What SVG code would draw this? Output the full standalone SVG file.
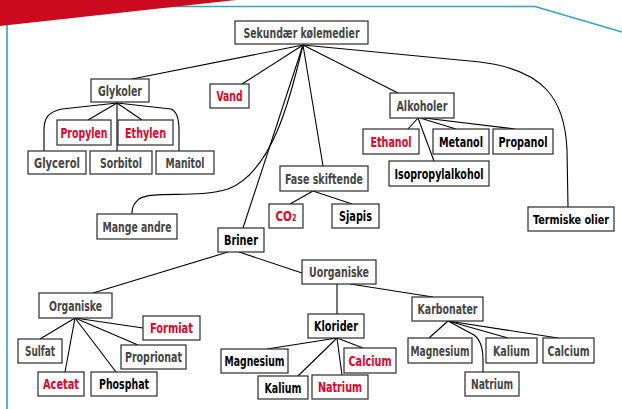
<svg xmlns="http://www.w3.org/2000/svg" width="622" height="409" viewBox="0 0 622 409">
<style>
.bx{fill:#fff;stroke:#2a2a2a;stroke-width:1.2}
.t{font-family:"DejaVu Sans Condensed","DejaVu Sans",sans-serif;font-weight:bold;font-size:14px;text-anchor:middle}
.g{fill:#444}
.k{fill:#000}
.r{fill:#e4002b}
#connectors path,#connectors line{stroke:#000;stroke-width:1.1;fill:none}
.deco{stroke:#2fa4c4;stroke-width:1.6;fill:none}
</style>
<rect width="622" height="409" fill="#fff"/>
<g id="decoration">
<path class="deco" d="M150,6.5 L535,6.5 L622,32"/>
<path class="deco" d="M7,18 L7,409"/>
<polygon points="0,0 236,0 0,26" fill="#cc0a1f"/>
</g>
<g id="connectors">
<line x1="303" y1="45" x2="132" y2="79"/>
<line x1="303" y1="45" x2="242" y2="84"/>
<path d="M303,45 C290,100 272,172 228,189 C198,199 152,190 139,199 C133,204 132,208 132,214"/>
<line x1="303" y1="45" x2="243" y2="228"/>
<line x1="303" y1="45" x2="323" y2="166"/>
<line x1="303" y1="45" x2="398" y2="93"/>
<path d="M303,45 L480,62 C545,70 565,100 567,150 L568,207"/>
<path d="M117,103 L62,109 C48,112 44,118 44,130 L44,151"/>
<line x1="117" y1="103" x2="88" y2="120"/>
<line x1="117" y1="103" x2="117" y2="151"/>
<line x1="117" y1="103" x2="142" y2="120"/>
<path d="M117,103 L171,109 C176,111 179,118 179,130 L179,151"/>
<line x1="418" y1="118" x2="408" y2="129"/>
<line x1="418" y1="118" x2="434" y2="161"/>
<line x1="420" y1="118" x2="456" y2="129"/>
<line x1="424" y1="118" x2="515" y2="129"/>
<line x1="313" y1="191" x2="290" y2="204"/>
<line x1="313" y1="191" x2="352" y2="204"/>
<line x1="228" y1="252" x2="93" y2="293"/>
<line x1="239" y1="252" x2="302" y2="273"/>
<line x1="75" y1="318" x2="40" y2="339"/>
<line x1="75" y1="318" x2="65" y2="372"/>
<line x1="75" y1="318" x2="116" y2="372"/>
<line x1="75" y1="318" x2="138" y2="345"/>
<line x1="75" y1="318" x2="143" y2="328"/>
<line x1="337" y1="284" x2="337" y2="314"/>
<line x1="350" y1="284" x2="433" y2="297"/>
<line x1="337" y1="338" x2="267" y2="349"/>
<line x1="337" y1="338" x2="298" y2="376"/>
<line x1="337" y1="338" x2="342" y2="375"/>
<line x1="337" y1="338" x2="363" y2="348"/>
<line x1="448" y1="321" x2="429" y2="338"/>
<path d="M448,321 L474,335 C481,340 483,348 483,360 L483,372"/>
<line x1="448" y1="321" x2="508" y2="338"/>
<line x1="448" y1="321" x2="558" y2="338"/>
</g>
<g id="root"><rect class="bx" x="235" y="21" width="133" height="23"/><text class="t g" x="301.5" y="37.5" textLength="116" lengthAdjust="spacingAndGlyphs">Sekundær kølemedier</text></g>
<g id="glykoler"><rect class="bx" x="91" y="79" width="58" height="23"/><text class="t g" x="120" y="95.5" textLength="44" lengthAdjust="spacingAndGlyphs">Glykoler</text></g>
<g id="vand"><rect class="bx" x="210" y="84" width="39" height="24"/><text class="t r" x="229.5" y="101" textLength="26" lengthAdjust="spacingAndGlyphs">Vand</text></g>
<g id="propylen"><rect class="bx" x="57" y="120" width="54" height="25"/><text class="t r" x="84" y="137.5" textLength="47" lengthAdjust="spacingAndGlyphs">Propylen</text></g>
<g id="ethylen"><rect class="bx" x="118" y="120" width="55" height="25"/><text class="t r" x="145.5" y="137.5" textLength="41" lengthAdjust="spacingAndGlyphs">Ethylen</text></g>
<g id="glycerol"><rect class="bx" x="28" y="151" width="58" height="23"/><text class="t g" x="57" y="167.5" textLength="46" lengthAdjust="spacingAndGlyphs">Glycerol</text></g>
<g id="sorbitol"><rect class="bx" x="90" y="151" width="62" height="23"/><text class="t g" x="121" y="167.5" textLength="42" lengthAdjust="spacingAndGlyphs">Sorbitol</text></g>
<g id="manitol"><rect class="bx" x="156" y="151" width="58" height="23"/><text class="t g" x="185" y="167.5" textLength="39" lengthAdjust="spacingAndGlyphs">Manitol</text></g>
<g id="alkoholer"><rect class="bx" x="390" y="93" width="64" height="25"/><text class="t g" x="422" y="110.5" textLength="51" lengthAdjust="spacingAndGlyphs">Alkoholer</text></g>
<g id="ethanol"><rect class="bx" x="363" y="129" width="56" height="25"/><text class="t r" x="391" y="146.5" textLength="41" lengthAdjust="spacingAndGlyphs">Ethanol</text></g>
<g id="metanol"><rect class="bx" x="433" y="129" width="56" height="25"/><text class="t k" x="461" y="146.5" textLength="44" lengthAdjust="spacingAndGlyphs">Metanol</text></g>
<g id="propanol"><rect class="bx" x="493" y="129" width="60" height="25"/><text class="t k" x="523" y="146.5" textLength="49" lengthAdjust="spacingAndGlyphs">Propanol</text></g>
<g id="isopropylalkohol"><rect class="bx" x="389" y="161" width="100" height="25"/><text class="t k" x="439" y="178.5" textLength="89" lengthAdjust="spacingAndGlyphs">Isopropylalkohol</text></g>
<g id="fase"><rect class="bx" x="280" y="166" width="88" height="25"/><text class="t g" x="324" y="183.5" textLength="78" lengthAdjust="spacingAndGlyphs">Fase skiftende</text></g>
<g id="co2"><rect class="bx" x="269" y="204" width="34" height="24"/><text class="t r" x="286" y="221" textLength="21" lengthAdjust="spacingAndGlyphs">CO₂</text></g>
<g id="sjapis"><rect class="bx" x="332" y="204" width="47" height="24"/><text class="t k" x="355.5" y="221" textLength="33" lengthAdjust="spacingAndGlyphs">Sjapis</text></g>
<g id="mange"><rect class="bx" x="97" y="214" width="80" height="25"/><text class="t g" x="137" y="231.5" textLength="69" lengthAdjust="spacingAndGlyphs">Mange andre</text></g>
<g id="briner"><rect class="bx" x="218" y="228" width="46" height="24"/><text class="t k" x="241" y="245" textLength="34" lengthAdjust="spacingAndGlyphs">Briner</text></g>
<g id="termiske"><rect class="bx" x="528" y="207" width="86" height="24"/><text class="t k" x="571" y="223.5" font-size="13" style="font-size:13px" textLength="76" lengthAdjust="spacingAndGlyphs">Termiske olier</text></g>
<g id="uorganiske"><rect class="bx" x="302" y="260" width="74" height="24"/><text class="t g" x="339" y="277" textLength="60" lengthAdjust="spacingAndGlyphs">Uorganiske</text></g>
<g id="organiske"><rect class="bx" x="39" y="293" width="73" height="25"/><text class="t g" x="75.5" y="310.5" textLength="53" lengthAdjust="spacingAndGlyphs">Organiske</text></g>
<g id="formiat"><rect class="bx" x="143" y="316" width="57" height="24"/><text class="t r" x="171.5" y="333" textLength="43" lengthAdjust="spacingAndGlyphs">Formiat</text></g>
<g id="sulfat"><rect class="bx" x="18" y="339" width="44" height="24"/><text class="t g" x="40" y="356" textLength="30" lengthAdjust="spacingAndGlyphs">Sulfat</text></g>
<g id="proprionat"><rect class="bx" x="121" y="345" width="65" height="24"/><text class="t g" x="153.5" y="362" textLength="57" lengthAdjust="spacingAndGlyphs">Proprionat</text></g>
<g id="acetat"><rect class="bx" x="38" y="372" width="46" height="24"/><text class="t r" x="61" y="389" textLength="36" lengthAdjust="spacingAndGlyphs">Acetat</text></g>
<g id="phosphat"><rect class="bx" x="91" y="372" width="66" height="24"/><text class="t k" x="124" y="389" textLength="50" lengthAdjust="spacingAndGlyphs">Phosphat</text></g>
<g id="klorider"><rect class="bx" x="308" y="314" width="56" height="24"/><text class="t k" x="336" y="331" textLength="44" lengthAdjust="spacingAndGlyphs">Klorider</text></g>
<g id="magnesium1"><rect class="bx" x="221" y="349" width="67" height="24"/><text class="t k" x="254.5" y="366" textLength="60" lengthAdjust="spacingAndGlyphs">Magnesium</text></g>
<g id="kalium1"><rect class="bx" x="258" y="376" width="50" height="23"/><text class="t k" x="283" y="392.5" textLength="37" lengthAdjust="spacingAndGlyphs">Kalium</text></g>
<g id="calcium1"><rect class="bx" x="344" y="348" width="52" height="25"/><text class="t r" x="370" y="365.5" textLength="43" lengthAdjust="spacingAndGlyphs">Calcium</text></g>
<g id="natrium1"><rect class="bx" x="312" y="375" width="56" height="24"/><text class="t r" x="340" y="392" textLength="44" lengthAdjust="spacingAndGlyphs">Natrium</text></g>
<g id="karbonater"><rect class="bx" x="412" y="297" width="71" height="24"/><text class="t g" x="447.5" y="314" textLength="60" lengthAdjust="spacingAndGlyphs">Karbonater</text></g>
<g id="magnesium2"><rect class="bx" x="408" y="338" width="64" height="25"/><text class="t g" x="440" y="355.5" textLength="59" lengthAdjust="spacingAndGlyphs">Magnesium</text></g>
<g id="kalium2"><rect class="bx" x="486" y="338" width="51" height="25"/><text class="t g" x="511.5" y="355.5" textLength="37" lengthAdjust="spacingAndGlyphs">Kalium</text></g>
<g id="calcium2"><rect class="bx" x="543" y="338" width="51" height="25"/><text class="t g" x="568.5" y="355.5" textLength="42" lengthAdjust="spacingAndGlyphs">Calcium</text></g>
<g id="natrium2"><rect class="bx" x="465" y="372" width="54" height="24"/><text class="t g" x="492" y="389" textLength="42" lengthAdjust="spacingAndGlyphs">Natrium</text></g>
</svg>
